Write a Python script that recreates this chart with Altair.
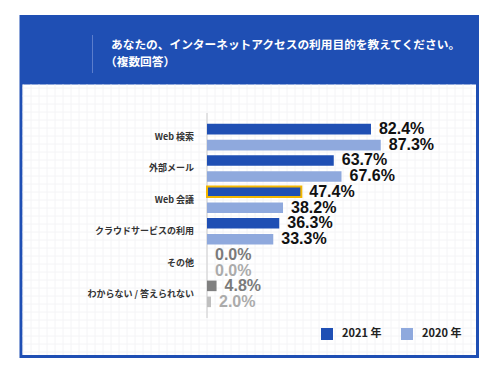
import altair as alt
import pandas as pd

# ---- data ----
categories = ["Web 検索", "外部メール", "Web 会議", "クラウドサービスの利用", "その他", "わからない / 答えられない"]
years = ["2021 年", "2020 年"]
values_2021 = [82.4, 63.7, 47.4, 36.3, 0.0, 4.8]
values_2020 = [87.3, 67.6, 38.2, 33.3, 0.0, 2.0]
grey_rows = ["その他", "わからない / 答えられない"]
highlight = ("Web 会議", "2021 年")

title_lines = ["あなたの、インターネットアクセスの利用目的を教えてください。", "（複数回答）"]

BLUE = "#1f4fb4"
LIGHT = "#8fa9dd"
JP = "Noto Sans CJK JP"
NUM = "Liberation Sans"

rows = []
for c, a, b in zip(categories, values_2021, values_2020):
    for y, v in ((years[0], a), (years[1], b)):
        grey = c in grey_rows
        rows.append({
            "category": c,
            "year": y,
            "value": v,
            "label": f"{v:.1f}%",
            "barcol": ("#808080" if y == years[0] else "#bfbfbf") if grey else (BLUE if y == years[0] else LIGHT),
            "labcol": ("#7a7a7a" if y == years[0] else "#ababab") if grey else "#111111",
            "stroke": "#f2b600" if (c, y) == highlight else "transparent",
            "grey": grey,
        })
df = pd.DataFrame(rows)
df_blue = df[~df["grey"]]
df_grey = df[df["grey"]]
df_cats = pd.DataFrame({"category": categories})
one = pd.DataFrame({"a": [0]})

yscale = alt.Scale(domain=categories, range=[105, 310], paddingOuter=0.27, paddingInner=0)
xscale = alt.Scale(domain=[0, 100], range=[199, 398])
yoff = alt.YOffset("year:N", scale=alt.Scale(domain=years, paddingInner=0.34, paddingOuter=0.15))

panel = alt.Chart(one).mark_rect(color=BLUE).encode(
    x=alt.value(11.5), x2=alt.value(471), y=alt.value(7), y2=alt.value(350))
inner = alt.Chart(one).mark_rect(color="#ffffff").encode(
    x=alt.value(14.7), x2=alt.value(468), y=alt.value(76.5), y2=alt.value(347))

vgrid = alt.Chart(alt.sequence(15, 468, 8, as_="px")).mark_rule(color="#f4f4f6", strokeWidth=1).encode(
    x=alt.X("px:Q", scale=None), y=alt.value(76.5), y2=alt.value(347))
hgrid = alt.Chart(alt.sequence(80, 347, 8, as_="py")).mark_rule(color="#f4f4f6", strokeWidth=1).encode(
    y=alt.Y("py:Q", scale=None), x=alt.value(14.7), x2=alt.value(468))

divider = alt.Chart(one).mark_rule(color="#5b7dcc", strokeWidth=1).encode(
    x=alt.value(84.5), y=alt.value(27), y2=alt.value(65))
t1 = alt.Chart(one).mark_text(text=title_lines[0], font=JP, fontSize=11.7, fontWeight="bold",
                              color="#ffffff", align="left", baseline="middle").encode(
    x=alt.value(103), y=alt.value(37))
t2 = alt.Chart(one).mark_text(text=title_lines[1], font=JP, fontSize=11.7, fontWeight="bold",
                              color="#ffffff", align="left", baseline="middle").encode(
    x=alt.value(97), y=alt.value(54))

domain = alt.Chart(one).mark_rule(color="#cccccc", strokeWidth=1).encode(
    x=alt.value(199), y=alt.value(105), y2=alt.value(310))

bars = alt.Chart(df_blue).mark_bar(strokeWidth=2).encode(
    x=alt.X("value:Q", scale=xscale, axis=None),
    y=alt.Y("category:N", scale=yscale, axis=None),
    yOffset=yoff,
    color=alt.Color("year:N", scale=alt.Scale(domain=years, range=[BLUE, LIGHT]),
                    legend=alt.Legend(orient="none", legendX=313, legendY=320, direction="horizontal",
                                      title=None, symbolType="square", symbolSize=144,
                                      symbolStrokeWidth=0, symbolOpacity=1,
                                      labelFont=JP, labelFontSize=11, labelFontWeight="bold",
                                      labelColor="#222222", labelOffset=9, columnPadding=19,
                                      padding=0)),
    stroke=alt.Stroke("stroke:N", scale=None),
)
grey_bars = alt.Chart(df_grey).mark_bar().encode(
    x=alt.X("value:Q", scale=xscale, axis=None),
    y=alt.Y("category:N", scale=yscale, axis=None),
    yOffset=yoff,
    fill=alt.Fill("barcol:N", scale=None),
)
labels = alt.Chart(df).mark_text(font=NUM, fontSize=16, fontWeight="bold", align="left",
                                 baseline="middle", dx=8).encode(
    x=alt.X("value:Q", scale=xscale, axis=None),
    y=alt.Y("category:N", scale=yscale, axis=None),
    yOffset=yoff,
    text="label:N",
    fill=alt.Fill("labcol:N", scale=None),
)
catlabels = alt.Chart(df_cats).mark_text(font=JP, fontSize=9, fontWeight="bold", align="right",
                                         baseline="middle", color="#333333").encode(
    x=alt.value(186),
    y=alt.Y("category:N", scale=yscale, axis=None),
    text="category:N",
)

chart = alt.layer(panel, inner, vgrid, hgrid, divider, t1, t2, domain, bars, grey_bars, labels, catlabels).properties(
    width=484, height=361, autosize=alt.AutoSizeParams(type="none"), padding=0, background="#ffffff"
).configure_view(stroke=None)

chart.save("out.html", embed_options={"renderer": "svg", "actions": False})
